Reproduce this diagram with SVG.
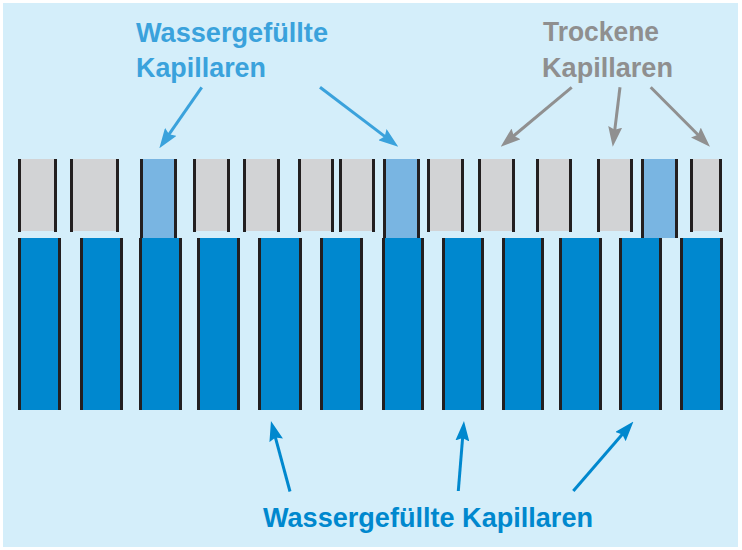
<svg xmlns="http://www.w3.org/2000/svg" width="742" height="550" viewBox="0 0 742 550">
<style>
.bg{fill:#D4EEFA}
.gray{fill:#D2D3D5}
.lb{fill:#79B5E2}
.blue{fill:#0088CF}
.wall{fill:#231F20}
.lbl{font-family:"Liberation Sans",Arial,sans-serif;font-weight:bold;font-size:28px}
.t1{fill:#3AA2DC}
.t2{fill:#8F8F8F}
.t3{fill:#0088CE}
.a1{stroke:#3AA2DC;stroke-width:3;fill:none;marker-end:url(#h1)}
.a2{stroke:#909090;stroke-width:3;fill:none;marker-end:url(#h2)}
.a3{stroke:#0088CE;stroke-width:3;fill:none;marker-end:url(#h3)}
</style>
<defs>
<marker id="h1" viewBox="0 0 20 14" markerWidth="20" markerHeight="14" markerUnits="userSpaceOnUse" refX="8" refY="7" orient="auto"><path d="M0,0 L20,7 L0,14 L3,7 z" fill="#3AA2DC"/></marker>
<marker id="h2" viewBox="0 0 20 14" markerWidth="20" markerHeight="14" markerUnits="userSpaceOnUse" refX="8" refY="7" orient="auto"><path d="M0,0 L20,7 L0,14 L3,7 z" fill="#909090"/></marker>
<marker id="h3" viewBox="0 0 20 14" markerWidth="20" markerHeight="14" markerUnits="userSpaceOnUse" refX="8" refY="7" orient="auto"><path d="M0,0 L20,7 L0,14 L3,7 z" fill="#0088CE"/></marker>
</defs>
<rect class="bg" x="3" y="3" width="735" height="544"/>

<g id="top-row">
<g id="t1"><rect class="gray" x="18" y="159" width="39" height="72"/><rect class="wall" x="18" y="159" width="3" height="73"/><rect class="wall" x="54" y="159" width="3" height="73"/></g>
<g id="t2"><rect class="gray" x="70" y="159" width="49" height="72"/><rect class="wall" x="70" y="159" width="3" height="73"/><rect class="wall" x="116" y="159" width="3" height="73"/></g>
<g id="t3"><rect class="lb" x="140" y="159" width="37" height="79"/><rect class="wall" x="140" y="159" width="3" height="79"/><rect class="wall" x="174" y="159" width="3" height="79"/></g>
<g id="t4"><rect class="gray" x="193" y="159" width="37" height="72"/><rect class="wall" x="193" y="159" width="3" height="73"/><rect class="wall" x="227" y="159" width="3" height="73"/></g>
<g id="t5"><rect class="gray" x="243" y="159" width="37" height="72"/><rect class="wall" x="243" y="159" width="3" height="73"/><rect class="wall" x="277" y="159" width="3" height="73"/></g>
<g id="t6"><rect class="gray" x="298" y="159" width="36" height="72"/><rect class="wall" x="298" y="159" width="3" height="73"/><rect class="wall" x="331" y="159" width="3" height="73"/></g>
<g id="t7"><rect class="gray" x="339" y="159" width="36" height="72"/><rect class="wall" x="339" y="159" width="3" height="73"/><rect class="wall" x="372" y="159" width="3" height="73"/></g>
<g id="t8"><rect class="lb" x="383" y="159" width="37" height="79"/><rect class="wall" x="383" y="159" width="3" height="79"/><rect class="wall" x="417" y="159" width="3" height="79"/></g>
<g id="t9"><rect class="gray" x="427" y="159" width="37" height="72"/><rect class="wall" x="427" y="159" width="3" height="73"/><rect class="wall" x="461" y="159" width="3" height="73"/></g>
<g id="t10"><rect class="gray" x="478" y="159" width="37" height="72"/><rect class="wall" x="478" y="159" width="3" height="73"/><rect class="wall" x="512" y="159" width="3" height="73"/></g>
<g id="t11"><rect class="gray" x="536" y="159" width="36" height="72"/><rect class="wall" x="536" y="159" width="3" height="73"/><rect class="wall" x="569" y="159" width="3" height="73"/></g>
<g id="t12"><rect class="gray" x="597" y="159" width="36" height="72"/><rect class="wall" x="597" y="159" width="3" height="73"/><rect class="wall" x="630" y="159" width="3" height="73"/></g>
<g id="t13"><rect class="lb" x="641" y="159" width="37" height="79"/><rect class="wall" x="641" y="159" width="3" height="79"/><rect class="wall" x="675" y="159" width="3" height="79"/></g>
<g id="t14"><rect class="gray" x="690" y="159" width="32" height="72"/><rect class="wall" x="690" y="159" width="3" height="73"/><rect class="wall" x="719" y="159" width="3" height="73"/></g>
</g>

<g id="bottom-row">
<g id="b1"><rect class="blue" x="18" y="238" width="43" height="172"/><rect class="wall" x="18" y="238" width="3" height="172"/><rect class="wall" x="58" y="238" width="3" height="172"/></g>
<g id="b2"><rect class="blue" x="80" y="238" width="43" height="172"/><rect class="wall" x="80" y="238" width="3" height="172"/><rect class="wall" x="120" y="238" width="3" height="172"/></g>
<g id="b3"><rect class="blue" x="139" y="238" width="43" height="172"/><rect class="wall" x="139" y="238" width="3" height="172"/><rect class="wall" x="179" y="238" width="3" height="172"/></g>
<g id="b4"><rect class="blue" x="197" y="238" width="43" height="172"/><rect class="wall" x="197" y="238" width="3" height="172"/><rect class="wall" x="237" y="238" width="3" height="172"/></g>
<g id="b5"><rect class="blue" x="258" y="238" width="44" height="172"/><rect class="wall" x="258" y="238" width="3" height="172"/><rect class="wall" x="299" y="238" width="3" height="172"/></g>
<g id="b6"><rect class="blue" x="320" y="238" width="43" height="172"/><rect class="wall" x="320" y="238" width="3" height="172"/><rect class="wall" x="360" y="238" width="3" height="172"/></g>
<g id="b7"><rect class="blue" x="382" y="238" width="42" height="172"/><rect class="wall" x="382" y="238" width="3" height="172"/><rect class="wall" x="421" y="238" width="3" height="172"/></g>
<g id="b8"><rect class="blue" x="442" y="238" width="42" height="172"/><rect class="wall" x="442" y="238" width="3" height="172"/><rect class="wall" x="481" y="238" width="3" height="172"/></g>
<g id="b9"><rect class="blue" x="502" y="238" width="42" height="172"/><rect class="wall" x="502" y="238" width="3" height="172"/><rect class="wall" x="541" y="238" width="3" height="172"/></g>
<g id="b10"><rect class="blue" x="559" y="238" width="43" height="172"/><rect class="wall" x="559" y="238" width="3" height="172"/><rect class="wall" x="599" y="238" width="3" height="172"/></g>
<g id="b11"><rect class="blue" x="619" y="238" width="43" height="172"/><rect class="wall" x="619" y="238" width="3" height="172"/><rect class="wall" x="659" y="238" width="3" height="172"/></g>
<g id="b12"><rect class="blue" x="680" y="238" width="43" height="172"/><rect class="wall" x="680" y="238" width="3" height="172"/><rect class="wall" x="720" y="238" width="3" height="172"/></g>
</g>

<g id="label-top-left" class="lbl t1">
<text x="136" y="42" textLength="192" lengthAdjust="spacingAndGlyphs">Wassergefüllte</text>
<text x="136" y="77" textLength="130" lengthAdjust="spacingAndGlyphs">Kapillaren</text>
</g>
<g id="label-top-right" class="lbl t2">
<text x="543" y="41" textLength="116" lengthAdjust="spacingAndGlyphs">Trockene</text>
<text x="542" y="77" textLength="131" lengthAdjust="spacingAndGlyphs">Kapillaren</text>
</g>
<g id="label-bottom" class="lbl t3">
<text x="263" y="527" textLength="330" lengthAdjust="spacingAndGlyphs">Wassergefüllte Kapillaren</text>
</g>

<g id="connectors">
<line class="a1" x1="201.7" y1="87.3" x2="166.2" y2="138.4"/>
<line class="a1" x1="320" y1="87.3" x2="388.7" y2="139.4"/>
<line class="a2" x1="571.7" y1="87.3" x2="509.9" y2="139"/>
<line class="a2" x1="620" y1="87.3" x2="614.2" y2="134.8"/>
<line class="a2" x1="650.7" y1="87.3" x2="701.5" y2="138.2"/>
<line class="a3" x1="290" y1="491.5" x2="274.1" y2="432.6"/>
<line class="a3" x1="458.3" y1="491" x2="463" y2="433"/>
<line class="a3" x1="573.3" y1="491" x2="625.6" y2="430.6"/>
</g>
</svg>
